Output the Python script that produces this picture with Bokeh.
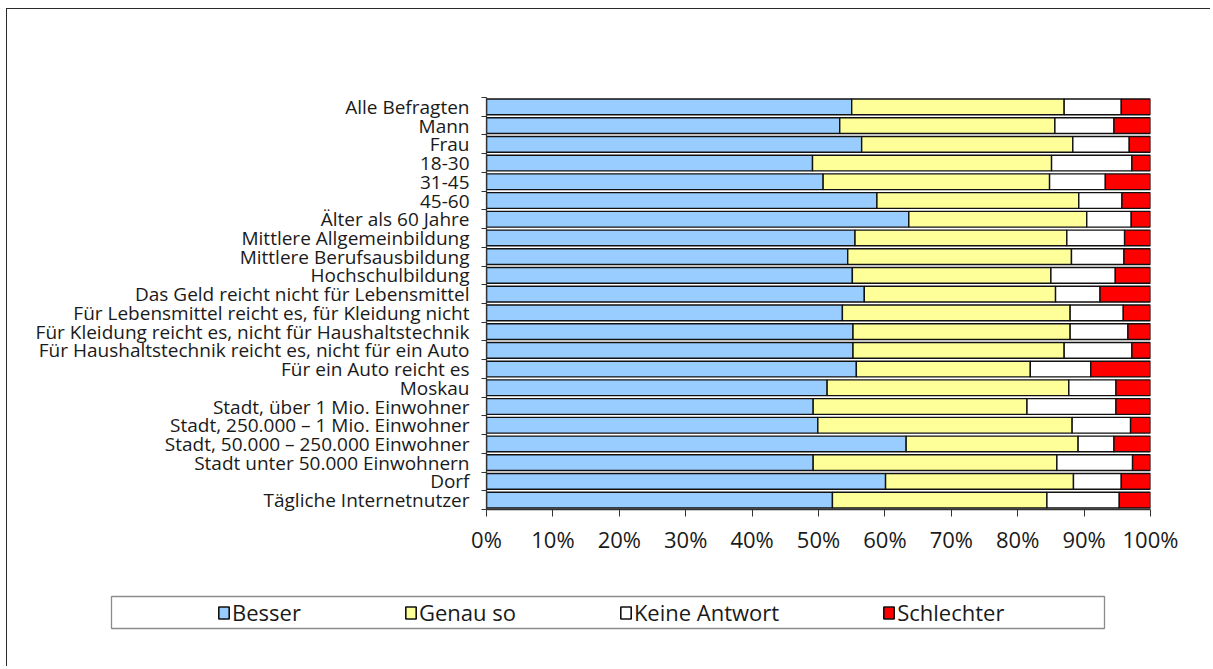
from bokeh.plotting import figure
from bokeh.layouts import column
from bokeh.models import (ColumnDataSource, FixedTicker, PrintfTickFormatter, Legend,
                          LegendItem, Range1d)
from bokeh.embed import file_html
from bokeh.resources import INLINE

categories = [
    "Alle Befragten", "Mann", "Frau", "18-30", "31-45", "45-60", "Älter als 60 Jahre",
    "Mittlere Allgemeinbildung", "Mittlere Berufsausbildung", "Hochschulbildung",
    "Das Geld reicht nicht für Lebensmittel",
    "Für Lebensmittel reicht es, für Kleidung nicht",
    "Für Kleidung reicht es, nicht für Haushaltstechnik",
    "Für Haushaltstechnik reicht es, nicht für ein Auto",
    "Für ein Auto reicht es", "Moskau", "Stadt, über 1 Mio. Einwohner",
    "Stadt, 250.000 – 1 Mio. Einwohner", "Stadt, 50.000 – 250.000 Einwohner",
    "Stadt unter 50.000 Einwohnern", "Dorf", "Tägliche Internetnutzer",
]
besser = [55.0, 53.2, 56.5, 49.1, 50.7, 58.8, 63.6, 55.5, 54.4, 55.1, 56.9,
          53.6, 55.2, 55.2, 55.7, 51.3, 49.2, 49.9, 63.2, 49.2, 60.1, 52.1]
genau_so = [32.0, 32.4, 31.8, 36.0, 34.1, 30.4, 26.8, 31.9, 33.7, 29.9, 28.8,
            34.3, 32.7, 31.8, 26.2, 36.4, 32.2, 38.3, 25.9, 36.7, 28.3, 32.3]
keine_antwort = [8.6, 8.9, 8.5, 12.1, 8.4, 6.5, 6.7, 8.7, 7.9, 9.7, 6.7,
                 8.0, 8.7, 10.2, 9.1, 7.1, 13.4, 8.8, 5.4, 11.4, 7.2, 10.9]
schlechter = [round(100 - a - b - c, 1) for a, b, c in zip(besser, genau_so, keine_antwort)]

series_names = ["Besser", "Genau so", "Keine Antwort", "Schlechter"]
series_keys = ["besser", "genau_so", "keine_antwort", "schlechter"]
colors = ["#99CCFF", "#FFFF99", "#FFFFFF", "#FF0000"]
x_ticks = list(range(0, 101, 10))

n = len(categories)
ypos = [n - i for i in range(n)]

source = ColumnDataSource(dict(
    y=ypos, cat=categories, besser=besser, genau_so=genau_so,
    keine_antwort=keine_antwort, schlechter=schlechter,
))

W = 1203
H1, H2 = 575, 82

# ---------------- main chart ----------------
FL, FR, FT, FB = 479, 1143, 88, 500
p = figure(width=W, height=H1, output_backend="svg", toolbar_location=None,
           x_range=Range1d(0, 100), y_range=Range1d(0.5, n + 0.5),
           min_border_left=FL, min_border_right=W - FR, min_border_top=FT,
           min_border_bottom=H1 - FB)
p.outline_line_color = None
p.xgrid.grid_line_color = None
p.ygrid.grid_line_color = None

renderers = p.hbar_stack(series_keys, y="y", height=0.84, source=source,
                         fill_color=colors, line_color="#111111", line_width=1.4)

xa = p.xaxis[0]
xa.ticker = FixedTicker(ticks=x_ticks)
xa.formatter = PrintfTickFormatter(format="%d%%")
xa.axis_line_color = "#333333"
xa.axis_line_width = 1.3
xa.major_tick_line_color = "#333333"
xa.major_tick_out = 7
xa.major_tick_in = 0
xa.minor_tick_line_color = None
xa.major_label_text_font = "Open Sans"
xa.major_label_text_font_size = "22px"
xa.major_label_text_color = "#1a1a1a"
xa.major_label_standoff = 7

ya = p.yaxis[0]
ya.ticker = FixedTicker(ticks=ypos, minor_ticks=[k + 0.5 for k in range(n + 1)])
ya.major_label_overrides = {y: c for y, c in zip(ypos, categories)}
ya.axis_line_color = "#333333"
ya.axis_line_width = 1.3
ya.major_tick_line_color = None
ya.major_tick_out = 0
ya.major_tick_in = 0
ya.minor_tick_line_color = "#333333"
ya.minor_tick_out = 5
ya.minor_tick_in = 0
ya.major_label_text_font = "Open Sans"
ya.major_label_text_font_size = "19px"
ya.major_label_text_color = "#1a1a1a"
ya.major_label_standoff = 12

# ---------------- legend strip ----------------
LL, LR, LT, LB = 104, 1097, 12, 44
p2 = figure(width=W, height=H2, output_backend="svg", toolbar_location=None,
            x_axis_type=None, y_axis_type=None,
            x_range=Range1d(0, 100), y_range=Range1d(0.5, n + 0.5),
            min_border_left=LL, min_border_right=W - LR, min_border_top=LT,
            min_border_bottom=H2 - LB)
p2.outline_line_color = "#8c8c8c"
p2.outline_line_width = 1.3
p2.xgrid.grid_line_color = None
p2.ygrid.grid_line_color = None

# same stacked series, hidden, serve as the legend glyphs
legend_renderers = p2.hbar_stack(series_keys, y="y", height=0.84, source=source,
                                 fill_color=colors, line_color="#111111", line_width=1.6)
for r in legend_renderers:
    r.visible = False
items = [LegendItem(label=nm, renderers=[r]) for nm, r in zip(series_names, legend_renderers)]
legend = Legend(items=items, orientation="horizontal", location=(218 - 112, 1),
                border_line_color=None, background_fill_alpha=0, padding=0,
                spacing=103, label_standoff=2, glyph_width=13, glyph_height=15,
                label_text_font="Open Sans", label_text_font_size="22px",
                label_text_color="#1a1a1a", margin=0, click_policy="none")
p2.add_layout(legend, "center")

for fig in (p, p2):
    if "frame_align" in fig.properties():
        fig.frame_align = False

layout = column(p, p2, spacing=0,
                styles={"margin-left": "6px", "margin-top": "8px",
                        "border-top": "1.5px solid #2a2a2a",
                        "border-left": "1.5px solid #2a2a2a"})

open("out.html", "w").write(file_html(layout, INLINE))
